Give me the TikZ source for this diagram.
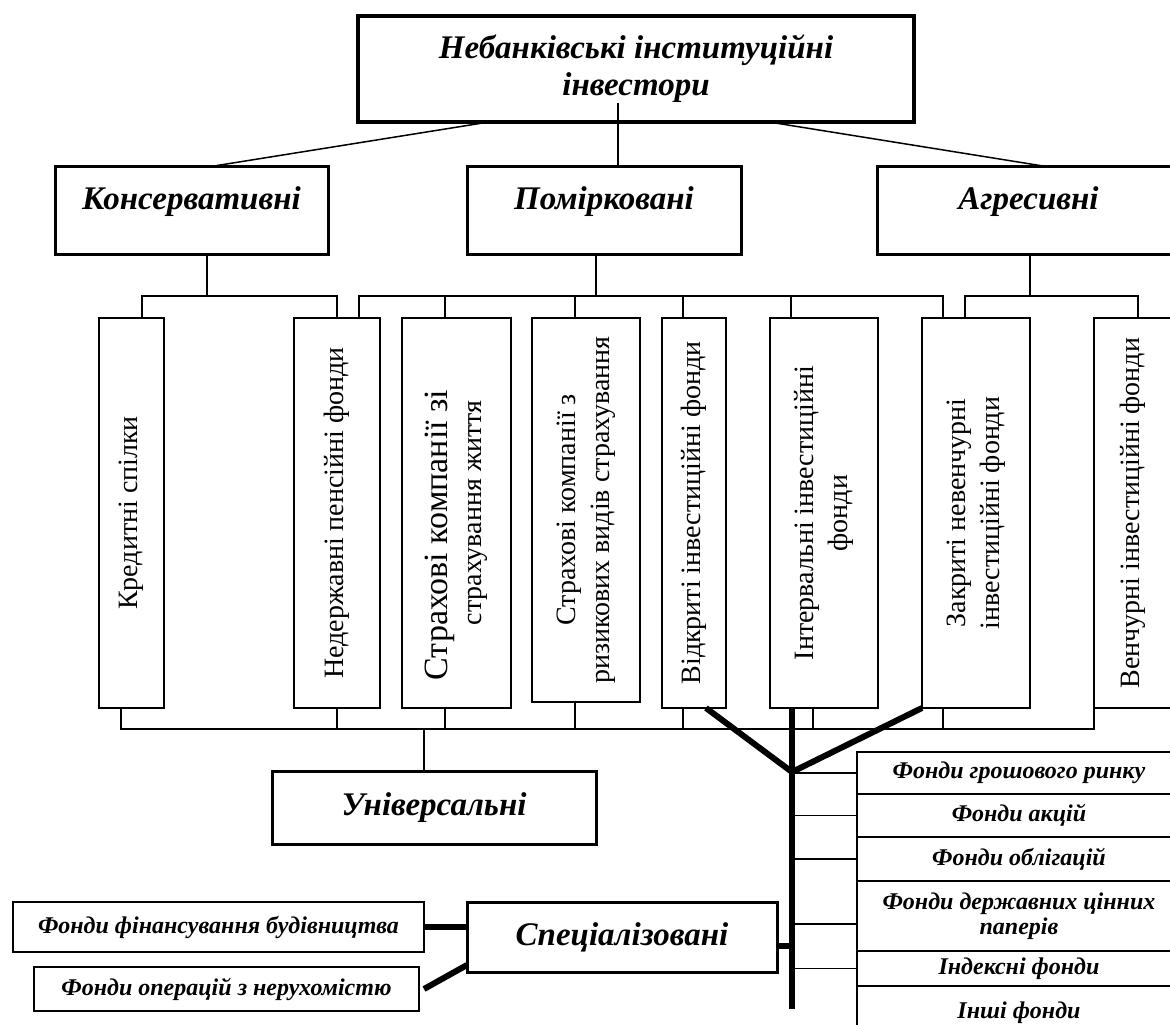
\documentclass[tikz,border=0pt]{standalone}
\usepackage{fontspec}
\setmainfont{Liberation Serif}
\newcommand\hdfont{\fontsize{33}{37}\selectfont\bfseries\itshape}
\newcommand\vertfont{\fontsize{28}{34}\selectfont}
\newcommand\bigvert{\fontsize{34}{36}\selectfont}
\newcommand\fundfont{\fontsize{24}{25}\selectfont\bfseries\itshape}
\newcommand\sidefont{\fontsize{24}{26}\selectfont\bfseries\itshape}
\tikzset{
  topbox/.style={draw, line width=4pt, outer sep=0pt, align=center, font=\hdfont},
  grpbox/.style={draw, line width=3pt, outer sep=0pt, text height=24pt, text depth=26pt, font=\hdfont},
  midbox/.style={draw, line width=3pt, outer sep=0pt, font=\hdfont},
  vbox/.style={draw, line width=2.5pt, outer sep=0pt, rotate=90, align=center, font=\vertfont},
  fbox/.style={draw, line width=2pt, outer sep=0pt, align=center, font=\fundfont},
  sidebox/.style={draw, line width=2.5pt, outer sep=0pt, font=\sidefont},
  link/.style={line width=1.5pt},
  bus/.style={line width=2.2pt},
  heavy/.style={line width=6pt},
}
\begin{document}
\begin{tikzpicture}[x=1pt, y=-1pt]
\useasboundingbox (0,0) rectangle (1170,1025);
\clip (0,0) rectangle (1170,1025);

	\draw (358, 69) node (top) [right, topbox, minimum width=556pt, minimum height=106pt] {Небанківські інституційні\\інвестори};

	\draw (55, 210) node (kons) [right, grpbox, minimum width=273pt, minimum height=88pt] {Консервативні};
	\draw (467, 210) node (pom) [right, grpbox, minimum width=274pt, minimum height=88pt] {Помірковані};
	\draw (877, 210) node (agr) [right, grpbox, minimum width=303pt, minimum height=88pt] {Агресивні};

	\draw[link] ([xshift=-147pt]top.south) -- ([xshift=22.5pt]kons.north);
	\draw[link] ([xshift=-18pt,yshift=19pt]top.south) -- ([xshift=14pt]pom.north);
	\draw[link] ([xshift=133pt]top.south) -- ([xshift=14.5pt]agr.north);

	% vertical boxes
	\draw (131.5, 708) node (kred) [right, vbox, minimum width=390pt, minimum height=65pt] {Кредитні спілки};
	\draw (337, 708) node (nederzh) [right, vbox, minimum width=390pt, minimum height=86pt] {Недержавні пенсійні фонди};
	\draw (456.5, 708) node (strakh1) [right, vbox, minimum width=390pt, minimum height=109pt] {{\bigvert Страхові компанії зі}\hspace*{44pt}\\страхування життя};
	\draw (586, 702) node (strakh2) [right, vbox, minimum width=384pt, minimum height=108pt] {Страхові компанії з\\ризикових видів страхування};
	\draw (694, 708) node (vidkr) [right, vbox, minimum width=390pt, minimum height=64pt] {Відкриті інвестиційні фонди};
	\draw (824, 708) node (interv) [right, vbox, minimum width=390pt, minimum height=108pt] {Інтервальні інвестиційні\\фонди};
	\draw (976, 708) node (zakr) [right, vbox, minimum width=390pt, minimum height=108pt] {Закриті невенчурні\\інвестиційні фонди};
	\draw (1133, 708) node (vench) [right, vbox, minimum width=390pt, minimum height=78pt] {Венчурні інвестиційні фонди};

	\coordinate (kb) at (207,296);
	\coordinate (pb) at (596,296);
	\coordinate (ab) at (1030,296);
	\draw[bus] (kb |- kons.south) -- (kb);
	\draw[bus] ([xshift=10.5pt]kred.east) |- (kb) -| (nederzh.east);
	\draw[bus] (pb |- pom.south) -- (pb);
	\draw[bus] ([xshift=22pt]nederzh.east) |- (pb) -| ([xshift=-33pt]zakr.east);
	\foreach \n/\dx in {strakh1/-11.5, strakh2/-11, vidkr/-11, interv/-33}
		\draw[bus] ([xshift=\dx pt]\n.east) |- (pb);
	\draw[bus] (ab |- agr.south) -- (ab);
	\draw[bus] ([xshift=-11pt]zakr.east) |- (ab) -| ([xshift=5pt]vench.east);

	% bottom bus
	\coordinate (ub) at (424,729);
	\draw[bus] ([xshift=-10.5pt]kred.west) |- (ub) -| (vench.north west);
	\foreach \n/\dx in {nederzh/0, strakh1/-11.5, strakh2/-11, vidkr/-11, interv/-11, zakr/-33}
		\draw[bus] ([xshift=\dx pt]\n.west) |- (ub);

	\draw (272, 807.5) node (univ) [right, midbox, minimum width=324pt, minimum height=73pt] {Універсальні};
	\draw[bus] (ub) -- (ub |- univ.north);

	% funds
	\draw (857, 773) node (f1) [right, fbox, minimum width=324pt, minimum height=42pt] {Фонди грошового ринку};
	\draw (857, 815.5) node (f2) [right, fbox, minimum width=324pt, minimum height=43pt] {Фонди акцій};
	\draw (857, 859) node (f3) [right, fbox, minimum width=324pt, minimum height=44pt] {Фонди облігацій};
	\draw (857, 916) node (f4) [right, fbox, minimum width=324pt, minimum height=70pt] {Фонди державних цінних\\паперів};
	\draw (857, 968.5) node (f5) [right, fbox, minimum width=324pt, minimum height=35pt] {Індексні фонди};
	\draw (857, 1013) node (f6) [right, fbox, minimum width=324pt, minimum height=54pt] {Інші фонди};

	\coordinate (fork) at (792,772);
	\coordinate (tend) at (792,1009);
	\foreach \f in {f1,f2,f3,f5}
		\draw[link] (\f.west) -| (fork);
	\draw[link] ([yshift=-8pt]f4.west) -| (fork);

	\draw[heavy] (fork |- interv.west) -- (tend);
	\draw[heavy] ([xshift=12pt]vidkr.west) -- (fork);
	\draw[heavy] (zakr.north west) -- (fork);

	% specialised
	\draw (467, 937) node (spets) [right, midbox, minimum width=310pt, minimum height=70pt] {Спеціалізовані};
	\coordinate (sj) at (792,946);
	\draw[heavy] (spets.east |- sj) -- (sj);

	\draw (13, 927) node (budiv) [right, sidebox, minimum width=411pt, minimum height=50pt] {Фонди фінансування будівництва};
	\draw (34, 989) node (nerukh) [right, sidebox, minimum width=385pt, minimum height=44pt] {Фонди операцій з нерухомістю};
	\draw[heavy] (budiv.east) -- (budiv.east -| spets.west);
	\draw[heavy] ([xshift=5pt]nerukh.east) -- ([yshift=-28pt]spets.west);

\end{tikzpicture}
\end{document}
